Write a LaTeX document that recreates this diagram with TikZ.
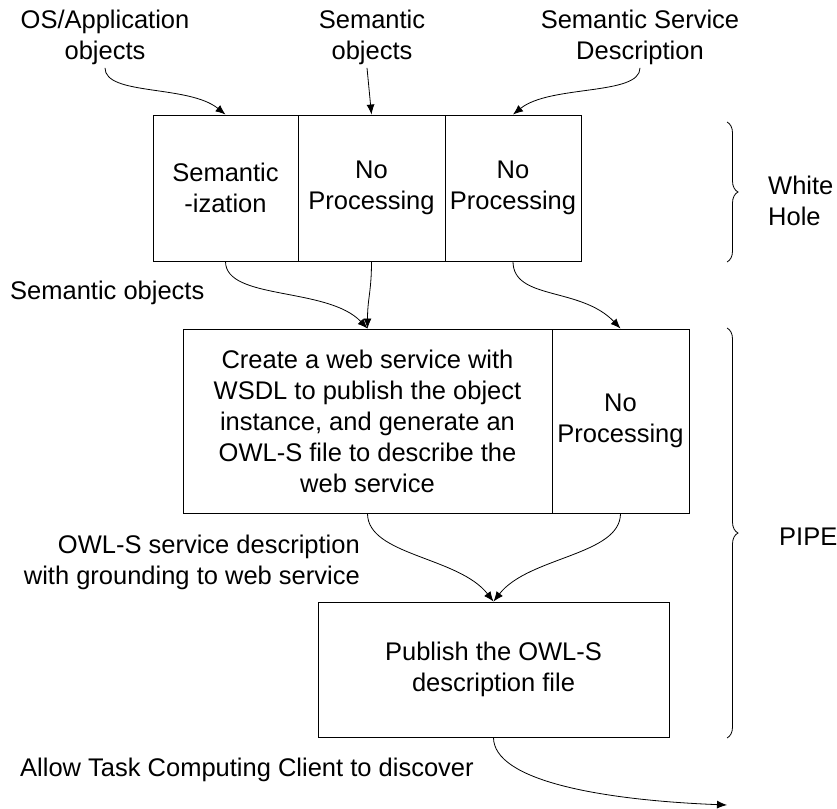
\documentclass[tikz,border=0pt]{standalone}
\usepackage{fontspec}
\setmainfont{Liberation Sans}
\usepackage{tikz}
\usetikzlibrary{arrows.meta,decorations.pathreplacing}

\begin{document}
\begin{tikzpicture}[x=1pt,y=1pt,yscale=-1,xscale=1,
  every node/.style={font=\fontsize{25.5}{31}\selectfont},
  cell/.style={draw, line width=0.9pt, inner sep=0pt, align=center},
  tag/.style={inner sep=0pt, align=#1},
  tag/.default=left,
  flow/.style={line width=0.8pt, -{Latex[length=10pt,width=8pt]}},
  curly/.style={line width=0.8pt, decorate, decoration={brace, amplitude=11pt}}]
\useasboundingbox (0,0) rectangle (837,808);

%Shape: Rectangle [White Hole row]
\node[cell, minimum width=145pt, minimum height=146pt] (semz) at (225.5,188) {Semantic\\-ization};
\node[cell, minimum width=147pt, minimum height=146pt] (nopA) at (371.5,188) {No\\Processing};
\node[cell, minimum width=136pt, minimum height=146pt] (nopB) at (513,188) {No\\Processing};

%Shape: Rectangle [PIPE row]
\node[cell, minimum width=369pt, minimum height=184pt] (wsdl) at (367.5,421) {Create a web service with\\WSDL to publish the object\\instance, and generate an\\OWL-S file to describe the\\web service};
\node[cell, minimum width=137pt, minimum height=184pt] (nopC) at (620.5,421) {No\\Processing};

%Shape: Rectangle [publish]
\node[cell, minimum width=351pt, minimum height=135pt] (pub) at (493.5,669.5) {Publish the OWL-S\\description file};

% Text Node
\node[align=center] (osapp) at (105,37) {OS/Application\\objects};
% Text Node
\node[align=center] (semobj) at (372,37) {Semantic\\objects};
% Text Node
\node[align=center] (ssd) at (640,37) {Semantic Service\\Description};
% Text Node
\node[tag, anchor=west] (lblsem) at (10,293) {Semantic objects};
% Text Node
\node[tag=right, anchor=east] (lblowl) at (360,562) {OWL-S service description\\with grounding to web service};
% Text Node
\node[tag, anchor=west] (lblallow) at (20,770) {Allow Task Computing Client to discover};
% Text Node
\node[tag, anchor=west] (white) at (768,201) {White\\Hole};
% Text Node
\node[tag, anchor=west] (pipe) at (779,537) {PIPE};

\coordinate (client) at (727,805);

%Curve Lines [inputs]
\draw[flow] (osapp.south) .. controls +(0,28) and +(-37,-30) .. (semz.north);
\draw[flow] ([xshift=-5pt]semobj.south) -- (nopA.north);
\draw[flow] (ssd.south) .. controls +(0,28) and +(37,-30) .. (nopB.north);

%Curve Lines [white hole to pipe]
\draw[flow] (semz.south) .. controls +(0,39) and +(-40,-42) .. (wsdl.north);
\draw[flow] (nopA.south) .. controls +(0,30) and +(0,-30) .. (wsdl.north);
\draw[flow] (nopB.south) .. controls +(0,39) and +(-40,-42) .. (nopC.north);

%Curve Lines [merge]
\draw[flow] (wsdl.south) .. controls +(0,42) and +(-35,-45) .. (pub.north);
\draw[flow] (nopC.south) .. controls +(0,42) and +(35,-45) .. (pub.north);

%Curve Lines [out]
\draw[flow] (pub.south) .. controls +(0,43) and +(-127,-5) .. (client);

%Braces
\draw[curly] (727,122) -- (727,262);
\draw[curly] (727,328) -- (727,738);
\end{tikzpicture}
\end{document}
